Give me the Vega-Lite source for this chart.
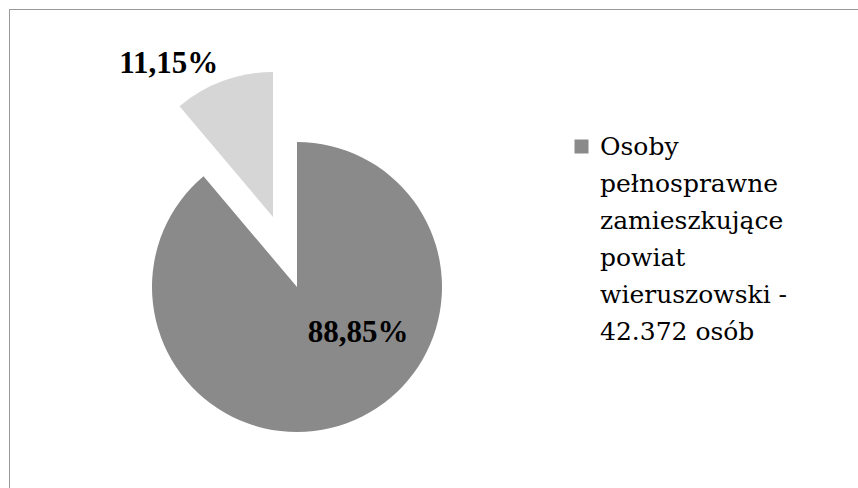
{
  "$schema": "https://vega.github.io/schema/vega-lite/v6.json",
  "width": 849,
  "height": 479,
  "autosize": {"type": "none"},
  "padding": {"left": 9, "top": 9, "right": 0, "bottom": 0},
  "background": "white",
  "view": {"stroke": "#333333", "strokeDash": [1, 1], "strokeWidth": 1, "fill": "white"},
  "config": {
    "font": "Liberation Serif"
  },
  "data": {
    "values": [
      {"kategoria": "Osoby pełnosprawne zamieszkujące powiat wieruszowski - 42.372 osób", "procent": 88.85, "etykieta": "88,85%"},
      {"kategoria": "Osoby niepełnosprawne zamieszkujące powiat wieruszowski - 5.317 osób", "procent": 11.15, "etykieta": "11,15%"}
    ]
  },
  "transform": [
    {"stack": "procent", "groupby": [], "sort": [{"field": "procent", "order": "descending"}], "as": ["start", "end"]}
  ],
  "layer": [
    {
      "transform": [{"filter": "datum.procent > 50"}],
      "mark": {"type": "arc", "x": 288, "y": 278, "radius": 145},
      "encoding": {
        "theta": {"field": "start", "type": "quantitative", "scale": {"domain": [0, 100]}},
        "theta2": {"field": "end"},
        "color": {
          "field": "kategoria",
          "type": "nominal",
          "scale": {
            "domain": ["Osoby pełnosprawne zamieszkujące powiat wieruszowski - 42.372 osób", "Osoby niepełnosprawne zamieszkujące powiat wieruszowski - 5.317 osób"],
            "range": ["#8a8a8a", "#d6d6d6"]
          },
          "legend": {
            "values": ["Osoby pełnosprawne zamieszkujące powiat wieruszowski - 42.372 osób"],
            "orient": "none",
            "legendX": 560,
            "legendY": 125,
            "title": null,
            "padding": 0,
            "labelFont": "DejaVu Serif",
            "labelFontSize": 25,
            "labelColor": "#000000",
            "labelLimit": 600,
            "labelOffset": 6,
            "labelBaseline": "alphabetic",
            "labelExpr": "split(replace(datum.label, regexp('(?<!\\\\d) (?!-)', 'g'), '|'), '|')",
            "symbolType": "square",
            "symbolSize": 196,
            "symbolStrokeWidth": 0,
            "encoding": {"labels": {"lineHeight": {"value": 37}, "dy": {"value": 8}}}
          }
        }
      }
    },
    {
      "transform": [{"filter": "datum.procent < 50"}],
      "mark": {"type": "arc", "x": 288, "y": 278, "radius": 145, "xOffset": -24, "yOffset": -70},
      "encoding": {
        "theta": {"field": "start", "type": "quantitative", "scale": {"domain": [0, 100]}},
        "theta2": {"field": "end"},
        "color": {"field": "kategoria", "type": "nominal"}
      }
    },
    {
      "transform": [{"filter": "datum.procent > 50"}],
      "mark": {"type": "text", "x": 288, "y": 278, "radius": 0, "dx": 61, "dy": 46, "font": "Liberation Serif", "fontSize": 31, "fontWeight": "bold", "color": "#000000"},
      "encoding": {
        "theta": {"field": "start", "type": "quantitative", "scale": {"domain": [0, 100]}},
        "text": {"field": "etykieta"}
      }
    },
    {
      "transform": [{"filter": "datum.procent < 50"}],
      "mark": {"type": "text", "x": 288, "y": 278, "radius": 292, "dx": 60, "dy": 0, "font": "Liberation Serif", "fontSize": 31, "fontWeight": "bold", "color": "#000000"},
      "encoding": {
        "theta": {"field": "start", "type": "quantitative", "scale": {"domain": [0, 100]}},
        "text": {"field": "etykieta"}
      }
    }
  ]
}
